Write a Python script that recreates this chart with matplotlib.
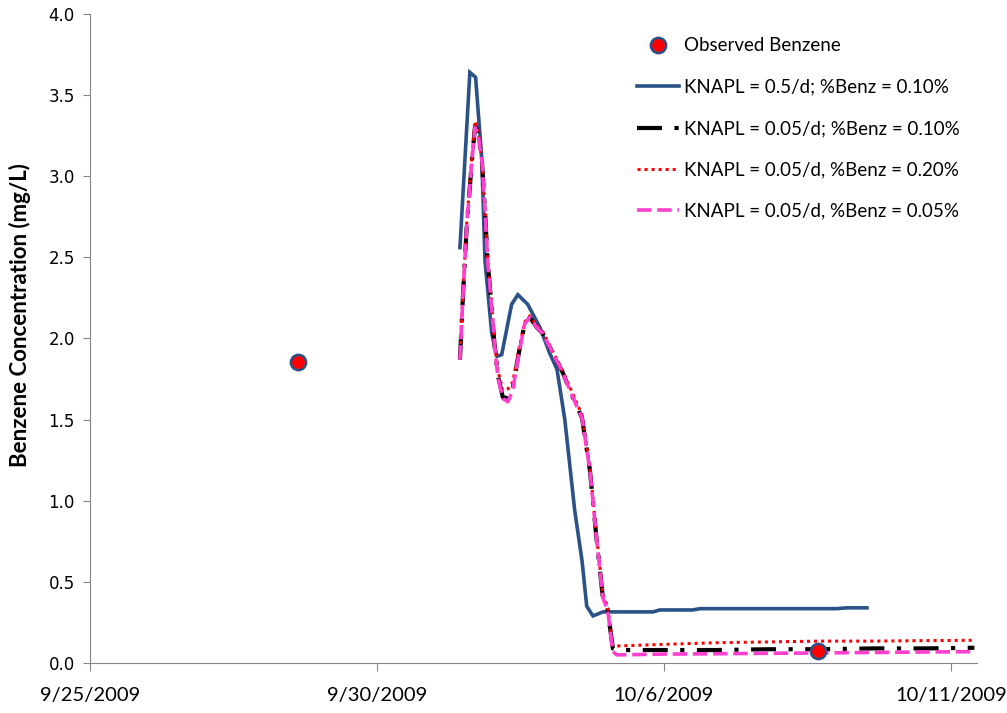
import matplotlib
matplotlib.use("Agg")
import matplotlib.pyplot as plt
import matplotlib.dates as mdates
import numpy as np
from datetime import datetime, timedelta

START = datetime(2009, 9, 25)

# observed benzene (days after 9/25/2009, mg/L)
obs_days = [3.98, 13.95]
obs_conc = [1.855, 0.074]

# KNAPL = 0.5/d; %Benz = 0.10%
blue_days = [7.09, 7.28, 7.39, 7.51, 7.57, 7.70, 7.80, 7.89, 8.08, 8.20, 8.39, 8.62, 8.81,
             8.95, 9.10, 9.29, 9.43, 9.52, 9.64, 9.83, 10.79, 10.92, 11.55, 11.69, 14.31,
             14.50, 14.89]
blue_conc = [2.56, 3.64, 3.61, 3.10, 2.48, 2.03, 1.89, 1.90, 2.21, 2.27, 2.21, 2.07, 1.91,
             1.81, 1.50, 0.94, 0.63, 0.35, 0.29, 0.315, 0.315, 0.327, 0.327, 0.335, 0.335,
             0.34, 0.34]

# shared time axis for the 0.05/d runs
low_days = [7.09, 7.15, 7.22, 7.32, 7.38, 7.43, 7.51, 7.57, 7.62, 7.70, 7.76, 7.82, 7.91,
            8.01, 8.10, 8.20, 8.33, 8.43, 8.56, 8.68, 8.87, 9.06, 9.25, 9.43, 9.58, 9.71,
            9.83, 9.92, 10.02, 10.10, 11.0, 12.0, 13.0, 14.0, 15.0, 16.0, 16.95]

# KNAPL = 0.05/d; %Benz = 0.10%
black_conc = [1.87, 2.28, 2.69, 3.10, 3.31, 3.28, 3.10, 2.79, 2.48, 2.18, 1.93, 1.77, 1.64,
              1.63, 1.69, 1.88, 2.09, 2.13, 2.07, 2.03, 1.91, 1.79, 1.64, 1.51, 1.19, 0.76,
              0.40, 0.33, 0.09, 0.08, 0.08, 0.08, 0.085, 0.085, 0.09, 0.09, 0.094]
# KNAPL = 0.05/d, %Benz = 0.20%
red_conc = [1.88, 2.30, 2.71, 3.12, 3.34, 3.29, 3.11, 2.80, 2.49, 2.20, 1.95, 1.80, 1.68,
            1.69, 1.73, 1.90, 2.10, 2.14, 2.08, 2.04, 1.92, 1.80, 1.66, 1.53, 1.21, 0.78,
            0.42, 0.35, 0.11, 0.105, 0.115, 0.125, 0.13, 0.135, 0.135, 0.138, 0.14]
# KNAPL = 0.05/d, %Benz = 0.05%
pink_conc = [1.87, 2.28, 2.69, 3.10, 3.30, 3.27, 3.10, 2.79, 2.48, 2.18, 1.93, 1.76, 1.63,
             1.61, 1.68, 1.87, 2.09, 2.13, 2.07, 2.03, 1.91, 1.79, 1.64, 1.51, 1.19, 0.76,
             0.40, 0.33, 0.07, 0.05, 0.055, 0.057, 0.06, 0.062, 0.065, 0.068, 0.07]


def toDates(days):
    return [START + timedelta(days=d) for d in days]


fig = plt.figure(figsize=(10.07, 7.13), dpi=100)
ax = fig.add_axes([0.0894, 0.0701, 0.8808, 0.9103])

ax.plot(toDates(blue_days), blue_conc, color="#2A5286", lw=2.6, solid_joinstyle="miter",
        label="KNAPL = 0.5/d; %Benz = 0.10%")
ax.plot(toDates(low_days), black_conc, color="black", lw=3.0, dashes=(6, 3, 1, 3),
        label="KNAPL = 0.05/d; %Benz = 0.10%")
ax.plot(toDates(low_days), red_conc, color="#FF0000", lw=2.2, dashes=(1, 1.3),
        label="KNAPL = 0.05/d, %Benz = 0.20%")
ax.plot(toDates(low_days), pink_conc, color="#FF3FCF", lw=2.6, dashes=(4, 1.6),
        label="KNAPL = 0.05/d, %Benz = 0.05%")
ax.plot(toDates(obs_days), obs_conc, linestyle="none", marker="o", markersize=11,
        markerfacecolor="#FF0000", markeredgecolor="#2A5286", markeredgewidth=1.8,
        label="Observed Benzene", zorder=5)

ax.set_xlim(START, START + timedelta(days=17))
ax.set_ylim(0, 4.0)

tick_dates = [START + timedelta(days=5.5 * i) for i in range(4)]
ax.set_xticks(mdates.date2num(tick_dates))
ax.set_xticklabels([f"{d.month}/{d.day}/{d.year}" for d in tick_dates],
                   fontsize=14.5, family="Lato")
ax.set_yticks(np.arange(0, 4.01, 0.5))
ax.set_yticklabels([f"{v:.1f}" for v in np.arange(0, 4.01, 0.5)], fontsize=12,
                   family="DejaVu Sans")
ax.tick_params(axis="x", direction="out", length=6, color="#868686", pad=11)
ax.tick_params(axis="y", direction="out", length=5, color="#868686", pad=6)

for side in ["top", "right"]:
    ax.spines[side].set_visible(False)
for side in ["left", "bottom"]:
    ax.spines[side].set_color("#868686")

ax.set_ylabel("Benzene Concentration (mg/L)", fontsize=16, fontweight="bold",
              family="Lato")
ax.yaxis.set_label_coords(-0.066, 0.536)

handles, labels = ax.get_legend_handles_labels()
order = [4, 0, 1, 2, 3]
ax.legend([handles[i] for i in order], [labels[i] for i in order], loc="upper left",
          bbox_to_anchor=(0.598, 0.99), frameon=False, handlelength=2.2,
          labelspacing=1.3, handletextpad=0.3, prop={"family": "Lato", "size": 13.5})

fig.savefig("out.png", dpi=100)
